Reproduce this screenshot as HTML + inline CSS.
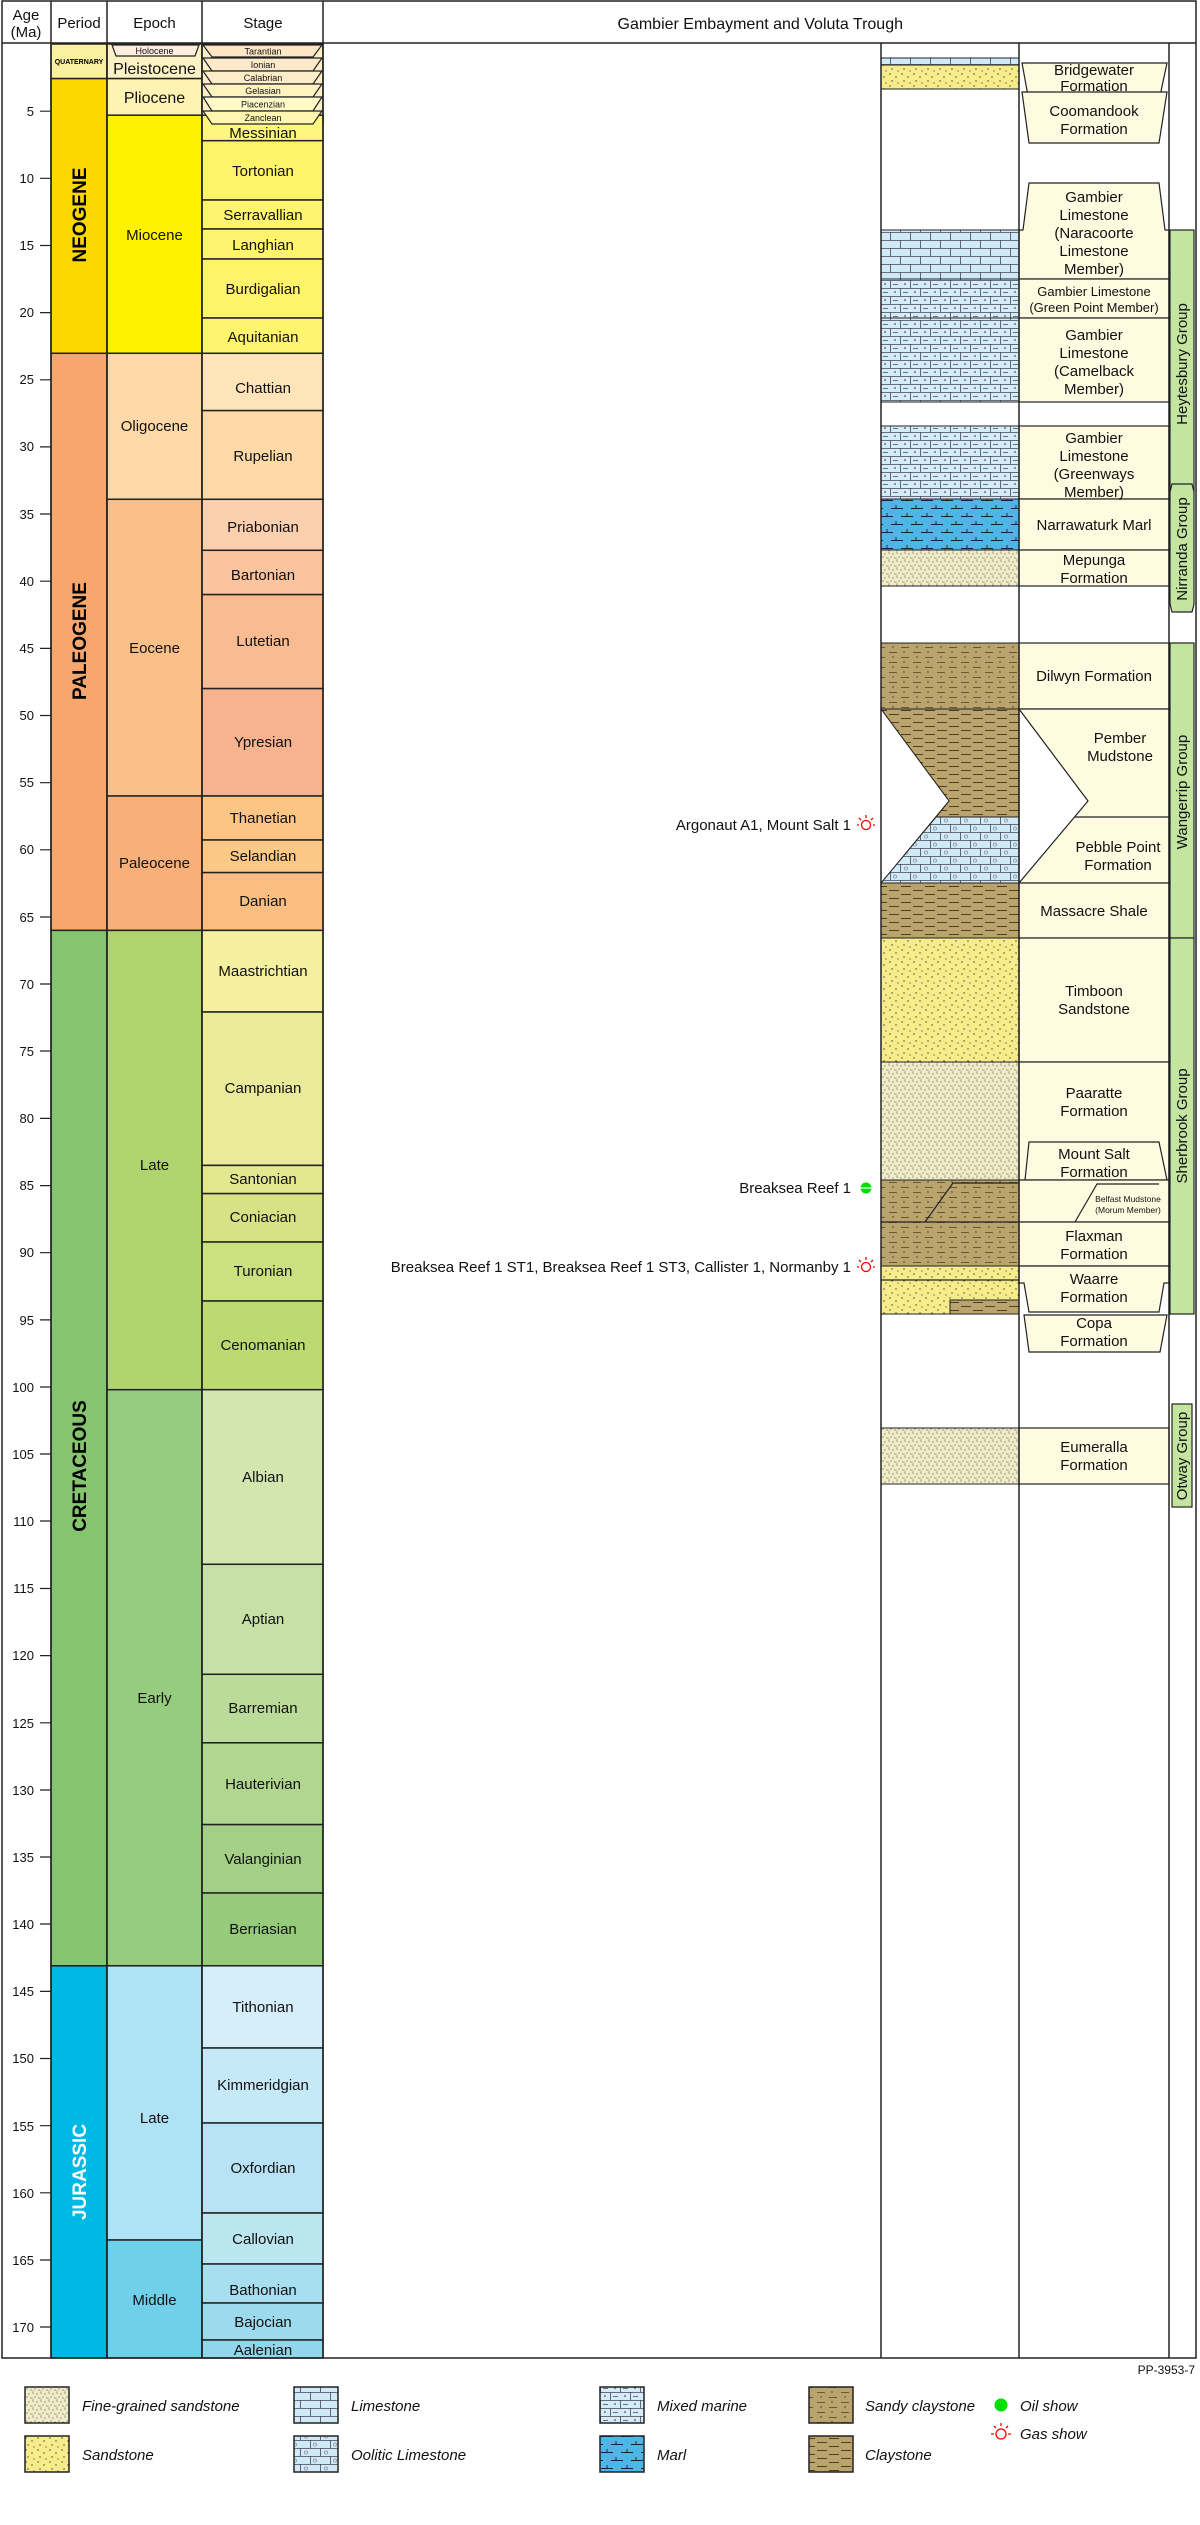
<!DOCTYPE html>
<html><head><meta charset="utf-8"><style>
html,body{margin:0;padding:0;background:#fff;}
svg{display:block;font-family:"Liberation Sans",Arial,sans-serif;}
</style></head><body>
<svg width="1200" height="2525" viewBox="0 0 1200 2525" xmlns="http://www.w3.org/2000/svg">
<defs>
<pattern id="lst" width="20" height="16" patternUnits="userSpaceOnUse"><rect width="20" height="16" fill="#cfe9f6"/><path d="M0 0.5H20M0 8.5H20M0.5 0V8M10.5 8V16" stroke="#445" stroke-width="0.8" fill="none"/></pattern>
<pattern id="mix" width="20" height="16" patternUnits="userSpaceOnUse"><rect width="20" height="16" fill="#d4ecf8"/><path d="M0 0.5H20M0 8.5H20M0.5 0V8M10.5 8V16M3 4.5H8M13 12.5H18" stroke="#445" stroke-width="0.8" fill="none"/><circle cx="15" cy="4" r="0.8" fill="#222"/><circle cx="5" cy="12" r="0.8" fill="#222"/></pattern>
<pattern id="ool" width="20" height="16" patternUnits="userSpaceOnUse"><rect width="20" height="16" fill="#cfe9f6"/><path d="M0 0.5H20M0 8.5H20M0.5 0V8M10.5 8V16" stroke="#445" stroke-width="0.8" fill="none"/><circle cx="6" cy="4.5" r="1.6" fill="none" stroke="#778" stroke-width="0.6"/><circle cx="15" cy="12.5" r="1.6" fill="none" stroke="#778" stroke-width="0.6"/></pattern>
<pattern id="marl" width="20" height="16" patternUnits="userSpaceOnUse"><rect width="20" height="16" fill="#4bb7e6"/><path d="M1 4.5H13M7 4.5V1M11 12.5H20M0 12.5H3M16 12.5V9" stroke="#123" stroke-width="0.9" fill="none"/></pattern>
<pattern id="clay" width="24" height="8" patternUnits="userSpaceOnUse"><rect width="24" height="8" fill="#b9a46d"/><path d="M1 2.5H11M13 6.5H23" stroke="#4d3d1d" stroke-width="0.9" fill="none"/></pattern>
<pattern id="sclay" width="24" height="10" patternUnits="userSpaceOnUse"><rect width="24" height="10" fill="#b9a46d"/><path d="M1 2.5H9M13 7.5H21" stroke="#4d3d1d" stroke-width="0.8" fill="none"/><circle cx="16" cy="2" r="0.7" fill="#332"/><circle cx="5" cy="7" r="0.7" fill="#332"/></pattern>
<pattern id="sst" width="12" height="12" patternUnits="userSpaceOnUse"><rect width="12" height="12" fill="#f7ec8a"/><circle cx="2" cy="2" r="0.7" fill="#444"/><circle cx="8" cy="5" r="0.7" fill="#444"/><circle cx="4" cy="9" r="0.7" fill="#444"/><circle cx="10" cy="11" r="0.6" fill="#444"/></pattern>
<pattern id="fsst" width="8" height="8" patternUnits="userSpaceOnUse"><rect width="8" height="8" fill="#f1edc8"/><circle cx="1" cy="1" r="0.6" fill="#555"/><circle cx="5" cy="2" r="0.6" fill="#555"/><circle cx="3" cy="5" r="0.6" fill="#555"/><circle cx="7" cy="6" r="0.6" fill="#555"/><circle cx="1" cy="7" r="0.5" fill="#555"/></pattern>
</defs>

<!-- Period column -->
<g stroke="#222" stroke-width="1.5">
<rect x="51" y="44" width="56" height="34.6" fill="#faf0a0"/>
<rect x="51" y="78.6" width="56" height="274.7" fill="#fdd800"/>
<rect x="51" y="353.3" width="56" height="577.1" fill="#f7a66c"/>
<rect x="51" y="930.4" width="56" height="1035.4" fill="#84c56e"/>
<rect x="51" y="1965.8" width="56" height="392.2" fill="#00b8e4"/>
<!-- Epoch column -->
<rect x="107" y="44" width="95" height="34.6" fill="#fdf2c4"/>
<rect x="107" y="78.6" width="95" height="36.6" fill="#fff3b4"/>
<rect x="107" y="115.2" width="95" height="238.1" fill="#fff200"/>
<rect x="107" y="353.3" width="95" height="146" fill="#fdd9a8"/>
<rect x="107" y="499.3" width="95" height="296.7" fill="#fbbf88"/>
<rect x="107" y="796" width="95" height="134.4" fill="#f8b07a"/>
<rect x="107" y="930.4" width="95" height="459.3" fill="#b0d46e"/>
<rect x="107" y="1389.7" width="95" height="576.1" fill="#96cc7e"/>
<rect x="107" y="1965.8" width="95" height="274.2" fill="#b0e2f6"/>
<rect x="107" y="2240" width="95" height="118" fill="#70d0ea"/>
<!-- Stage column -->
<rect x="202" y="44" width="121" height="80" fill="#fdf0c8"/>
<rect x="202" y="115.2" width="121" height="25.5" fill="#fff680"/>
<rect x="202" y="140.7" width="121" height="59.3" fill="#fff36a"/>
<rect x="202" y="200" width="121" height="29" fill="#fff46e"/>
<rect x="202" y="229" width="121" height="30" fill="#fff46e"/>
<rect x="202" y="259" width="121" height="59" fill="#fff36a"/>
<rect x="202" y="318" width="121" height="35.3" fill="#fff46e"/>
<rect x="202" y="353.3" width="121" height="57.3" fill="#fee4b8"/>
<rect x="202" y="410.6" width="121" height="88.7" fill="#fdd9a8"/>
<rect x="202" y="499.3" width="121" height="51" fill="#fccfaf"/>
<rect x="202" y="550.3" width="121" height="44.3" fill="#fbc49e"/>
<rect x="202" y="594.6" width="121" height="94" fill="#f9bb92"/>
<rect x="202" y="688.6" width="121" height="107.4" fill="#f6b38e"/>
<rect x="202" y="796" width="121" height="44" fill="#fbc586"/>
<rect x="202" y="840" width="121" height="32.6" fill="#fbc885"/>
<rect x="202" y="872.6" width="121" height="57.8" fill="#fbbe82"/>
<rect x="202" y="930.4" width="121" height="81.6" fill="#f4f0a0"/>
<rect x="202" y="1012" width="121" height="153.4" fill="#eaeb9a"/>
<rect x="202" y="1165.4" width="121" height="28.2" fill="#e3e88e"/>
<rect x="202" y="1193.6" width="121" height="48.4" fill="#d6e285"/>
<rect x="202" y="1242" width="121" height="59" fill="#cbe07e"/>
<rect x="202" y="1301" width="121" height="88.7" fill="#bcd972"/>
<rect x="202" y="1389.7" width="121" height="174.6" fill="#d3e6b0"/>
<rect x="202" y="1564.3" width="121" height="110" fill="#c6e0a6"/>
<rect x="202" y="1674.3" width="121" height="68.5" fill="#badb9a"/>
<rect x="202" y="1742.8" width="121" height="81.8" fill="#b0d690"/>
<rect x="202" y="1824.6" width="121" height="68.4" fill="#a3d086"/>
<rect x="202" y="1893" width="121" height="72.8" fill="#96cb7c"/>
<rect x="202" y="1965.8" width="121" height="82.2" fill="#d5eef9"/>
<rect x="202" y="2048" width="121" height="75" fill="#c6e9f8"/>
<rect x="202" y="2123" width="121" height="90" fill="#b8e3f6"/>
<rect x="202" y="2213" width="121" height="51" fill="#bbe5ef"/>
<rect x="202" y="2264" width="121" height="39" fill="#a8dff0"/>
<rect x="202" y="2303" width="121" height="37" fill="#9edaed"/>
<rect x="202" y="2340" width="121" height="18" fill="#92d6eb"/>
</g>
<!-- small trapezoids -->
<g stroke="#222" stroke-width="1.2">
<polygon points="112,45 199,45 195,56 116,56" fill="#feeee0"/>
<polygon points="203,45 322,45 313,57 212,57" fill="#fde6c4"/>
<polygon points="203,58 322,58 313,71 212,71" fill="#fdeacb"/>
<polygon points="203,71 322,71 313,84 212,84" fill="#fdecc8"/>
<polygon points="203,84 322,84 313,97 212,97" fill="#fef2c0"/>
<polygon points="203,97 322,97 313,111 212,111" fill="#fffac8"/>
<polygon points="203,111 322,111 313,124 212,124" fill="#fff6b0"/>
</g>

<!-- frame -->
<g stroke="#222" stroke-width="1.5" fill="none">
<rect x="2" y="1" width="1194" height="2357"/>
<line x1="2" y1="43" x2="1196" y2="43"/>
<line x1="51" y1="1" x2="51" y2="2358"/>
<line x1="107" y1="1" x2="107" y2="2358"/>
<line x1="202" y1="1" x2="202" y2="2358"/>
<line x1="323" y1="1" x2="323" y2="2358"/>
</g>

<!-- header text -->
<g font-size="15" fill="#111" text-anchor="middle">
<text x="26" y="20">Age</text><text x="26" y="37">(Ma)</text>
<text x="79" y="28">Period</text>
<text x="154.5" y="28">Epoch</text>
<text x="263" y="28">Stage</text>
<text x="903" y="29" text-anchor="end" font-size="16">Gambier Embayment and Voluta Trough</text>
</g>

<!-- ticks -->
<g stroke="#222" stroke-width="1.2">
<path d="M40 111.2H51M40 178.3H51M40 245.5H51M40 312.6H51M40 379.8H51M40 446.9H51M40 514H51M40 581.2H51M40 648.4H51M40 715.5H51M40 782.7H51M40 849.8H51M40 917H51M40 984H51M40 1051H51M40 1118.4H51M40 1185.6H51M40 1252.7H51M40 1319.9H51M40 1387H51M40 1454H51M40 1521H51M40 1588.5H51M40 1655.6H51M40 1722.8H51M40 1790H51M40 1857H51M40 1924H51M40 1991.4H51M40 2058.5H51M40 2125.7H51M40 2192.8H51M40 2260H51M40 2327H51"/>
</g>
<g font-size="13" fill="#111" text-anchor="end">
<text x="34" y="116">5</text><text x="34" y="183">10</text><text x="34" y="250">15</text><text x="34" y="317">20</text><text x="34" y="384">25</text><text x="34" y="451">30</text><text x="34" y="519">35</text><text x="34" y="586">40</text><text x="34" y="653">45</text><text x="34" y="720">50</text><text x="34" y="787">55</text><text x="34" y="854">60</text><text x="34" y="922">65</text><text x="34" y="989">70</text><text x="34" y="1056">75</text><text x="34" y="1123">80</text><text x="34" y="1190">85</text><text x="34" y="1257">90</text><text x="34" y="1325">95</text><text x="34" y="1392">100</text><text x="34" y="1459">105</text><text x="34" y="1526">110</text><text x="34" y="1593">115</text><text x="34" y="1660">120</text><text x="34" y="1728">125</text><text x="34" y="1795">130</text><text x="34" y="1862">135</text><text x="34" y="1929">140</text><text x="34" y="1996">145</text><text x="34" y="2063">150</text><text x="34" y="2131">155</text><text x="34" y="2198">160</text><text x="34" y="2265">165</text><text x="34" y="2332">170</text>
</g>

<!-- period labels -->
<text x="79" y="64" font-size="7" font-weight="bold" text-anchor="middle">QUATERNARY</text>
<g font-size="19" font-weight="bold" text-anchor="middle">
<text transform="translate(86,215) rotate(-90)">NEOGENE</text>
<text transform="translate(86,641) rotate(-90)">PALEOGENE</text>
<text transform="translate(86,1466) rotate(-90)">CRETACEOUS</text>
<text transform="translate(86,2172) rotate(-90)" fill="#fff">JURASSIC</text>
</g>

<!-- epoch labels -->
<g font-size="15" text-anchor="middle" fill="#111">
<text x="154.5" y="54" font-size="9">Holocene</text>
<text x="154.5" y="74" font-size="16">Pleistocene</text>
<text x="154.5" y="103" font-size="16">Pliocene</text>
<text x="154.5" y="240">Miocene</text>
<text x="154.5" y="431">Oligocene</text>
<text x="154.5" y="653">Eocene</text>
<text x="154.5" y="868">Paleocene</text>
<text x="154.5" y="1170">Late</text>
<text x="154.5" y="1703">Early</text>
<text x="154.5" y="2123">Late</text>
<text x="154.5" y="2305">Middle</text>
</g>

<!-- stage labels -->
<g font-size="9" text-anchor="middle" fill="#111">
<text x="263" y="54.5">Tarantian</text><text x="263" y="68">Ionian</text><text x="263" y="81">Calabrian</text><text x="263" y="94">Gelasian</text><text x="263" y="107.5">Piacenzian</text><text x="263" y="121">Zanclean</text>
</g>
<g font-size="15" text-anchor="middle" fill="#111">
<text x="263" y="138">Messinian</text>
<text x="263" y="176">Tortonian</text>
<text x="263" y="220">Serravallian</text>
<text x="263" y="250">Langhian</text>
<text x="263" y="294">Burdigalian</text>
<text x="263" y="342">Aquitanian</text>
<text x="263" y="393">Chattian</text>
<text x="263" y="461">Rupelian</text>
<text x="263" y="532">Priabonian</text>
<text x="263" y="580">Bartonian</text>
<text x="263" y="646">Lutetian</text>
<text x="263" y="747">Ypresian</text>
<text x="263" y="823">Thanetian</text>
<text x="263" y="861">Selandian</text>
<text x="263" y="906">Danian</text>
<text x="263" y="976">Maastrichtian</text>
<text x="263" y="1093">Campanian</text>
<text x="263" y="1184">Santonian</text>
<text x="263" y="1222">Coniacian</text>
<text x="263" y="1276">Turonian</text>
<text x="263" y="1350">Cenomanian</text>
<text x="263" y="1482">Albian</text>
<text x="263" y="1624">Aptian</text>
<text x="263" y="1713">Barremian</text>
<text x="263" y="1789">Hauterivian</text>
<text x="263" y="1864">Valanginian</text>
<text x="263" y="1934">Berriasian</text>
<text x="263" y="2012">Tithonian</text>
<text x="263" y="2090">Kimmeridgian</text>
<text x="263" y="2173">Oxfordian</text>
<text x="263" y="2244">Callovian</text>
<text x="263" y="2295">Bathonian</text>
<text x="263" y="2327">Bajocian</text>
<text x="263" y="2355">Aalenian</text>
</g>

<!-- lithology column -->
<g stroke="#222" stroke-width="1">
<rect x="881" y="58" width="138" height="7" fill="url(#lst)"/>
<rect x="881" y="65" width="138" height="24" fill="url(#sst)"/>
<rect x="881" y="230" width="138" height="49" fill="url(#lst)"/>
<rect x="881" y="279" width="138" height="39" fill="url(#mix)"/>
<rect x="881" y="318" width="138" height="84" fill="url(#mix)"/>
<rect x="881" y="426" width="138" height="73" fill="url(#mix)"/>
<rect x="881" y="499" width="138" height="51" fill="url(#marl)"/>
<rect x="881" y="550" width="138" height="36" fill="url(#fsst)"/>
<rect x="881" y="643" width="138" height="66" fill="url(#sclay)"/>
<polygon points="881,709 1019,709 1019,817 936,817 949,801" fill="url(#clay)"/>
<polygon points="936,817 1019,817 1019,883 881,883" fill="url(#ool)"/>
<polygon points="881,709 949,801 881,883" fill="#fff"/>
<rect x="881" y="883" width="138" height="55" fill="url(#clay)"/>
<rect x="881" y="938" width="138" height="124" fill="url(#sst)"/>
<rect x="881" y="1062" width="138" height="118" fill="url(#fsst)"/>
<rect x="881" y="1180" width="138" height="86" fill="url(#sclay)"/>
<rect x="881" y="1266" width="138" height="48" fill="url(#sst)"/>
<rect x="950" y="1300" width="69" height="14" fill="url(#clay)"/>
<rect x="881" y="1428" width="138" height="56" fill="url(#fsst)"/>
</g>
<g stroke="#222" stroke-width="1.2" fill="none">
<path d="M925 1222L953 1183H1019M881 1222H1019M881 1280H1019"/>
</g>

<!-- formation column -->
<g stroke="#222" stroke-width="1.2" fill="#fffbe0">
<polygon points="1022,63 1167,63 1160,96 1028,96"/>
<polygon points="1022,92 1167,92 1159,143 1029,143"/>
<polygon points="1029,183 1159,183 1165,230 1169,230 1169,279 1019,279 1019,230 1023,230"/>
<rect x="1019" y="279" width="150" height="39"/>
<rect x="1019" y="318" width="150" height="84"/>
<rect x="1019" y="426" width="150" height="73"/>
<rect x="1019" y="499" width="150" height="51"/>
<rect x="1019" y="550" width="150" height="36"/>
<rect x="1019" y="643" width="150" height="66"/>
<rect x="1019" y="709" width="150" height="174"/>
<polygon points="1019,709 1088,801 1019,883" fill="#fff"/>
<rect x="1019" y="883" width="150" height="55"/>
<rect x="1019" y="938" width="150" height="124"/>
<rect x="1019" y="1062" width="150" height="118"/>
<polygon points="1029,1142 1159,1142 1167,1180 1025,1180"/>
<rect x="1019" y="1180" width="150" height="42"/>
<rect x="1019" y="1222" width="150" height="44"/>
<polygon points="1019,1266 1169,1266 1169,1283 1164,1283 1159,1312 1029,1312 1024,1283 1019,1283"/>
<polygon points="1024,1315 1167,1315 1160,1352 1029,1352"/>
<rect x="1019" y="1428" width="150" height="56"/>
</g>
<g stroke="#222" stroke-width="1.2" fill="none">
<path d="M1074.5 817H1169M1075 1222L1097 1184H1159"/>
</g>

<!-- group column -->
<g stroke="#222" stroke-width="1.2" fill="#c3e5a0">
<rect x="1170" y="230" width="24" height="262"/>
<polygon points="1172,484 1192,484 1194,492 1194,604 1192,612 1172,612 1170,604 1170,492"/>
<rect x="1170" y="643" width="24" height="295"/>
<rect x="1170" y="938" width="24" height="376"/>
<rect x="1172" y="1404" width="20" height="103"/>
</g>
<g stroke="#222" stroke-width="1.5" fill="none">
<line x1="881" y1="43" x2="881" y2="2358"/>
<line x1="1019" y1="43" x2="1019" y2="2358"/>
<line x1="1169" y1="43" x2="1169" y2="2358"/>
</g>
<g font-size="15" text-anchor="middle" fill="#111">
<text transform="translate(1187,364) rotate(-90)">Heytesbury Group</text>
<text transform="translate(1187,549) rotate(-90)">Nirranda Group</text>
<text transform="translate(1187,792) rotate(-90)">Wangerrip Group</text>
<text transform="translate(1187,1126) rotate(-90)">Sherbrook Group</text>
<text transform="translate(1187,1456) rotate(-90)">Otway Group</text>
</g>

<!-- formation labels -->
<g font-size="15" text-anchor="middle" fill="#111">
<text x="1094" y="75">Bridgewater</text><text x="1094" y="91">Formation</text>
<text x="1094" y="116">Coomandook</text><text x="1094" y="134">Formation</text>
<text x="1094" y="202">Gambier</text><text x="1094" y="220">Limestone</text><text x="1094" y="238">(Naracoorte</text><text x="1094" y="256">Limestone</text><text x="1094" y="274">Member)</text>
<text x="1094" y="296" font-size="13">Gambier Limestone</text><text x="1094" y="312" font-size="13">(Green Point Member)</text>
<text x="1094" y="340">Gambier</text><text x="1094" y="358">Limestone</text><text x="1094" y="376">(Camelback</text><text x="1094" y="394">Member)</text>
<text x="1094" y="443">Gambier</text><text x="1094" y="461">Limestone</text><text x="1094" y="479">(Greenways</text><text x="1094" y="497">Member)</text>
<text x="1094" y="530">Narrawaturk Marl</text>
<text x="1094" y="565">Mepunga</text><text x="1094" y="583">Formation</text>
<text x="1094" y="681">Dilwyn Formation</text>
<text x="1120" y="743">Pember</text><text x="1120" y="761">Mudstone</text>
<text x="1118" y="852">Pebble Point</text><text x="1118" y="870">Formation</text>
<text x="1094" y="916">Massacre Shale</text>
<text x="1094" y="996">Timboon</text><text x="1094" y="1014">Sandstone</text>
<text x="1094" y="1098">Paaratte</text><text x="1094" y="1116">Formation</text>
<text x="1094" y="1159">Mount Salt</text><text x="1094" y="1177">Formation</text>
<text x="1128" y="1202" font-size="8.5">Belfast Mudstone</text><text x="1128" y="1213" font-size="8.5">(Morum Member)</text>
<text x="1094" y="1241">Flaxman</text><text x="1094" y="1259">Formation</text>
<text x="1094" y="1284">Waarre</text><text x="1094" y="1302">Formation</text>
<text x="1094" y="1328">Copa</text><text x="1094" y="1346">Formation</text>
<text x="1094" y="1452">Eumeralla</text><text x="1094" y="1470">Formation</text>
</g>

<!-- shows -->
<g font-size="15" text-anchor="end" fill="#111">
<text x="851" y="830">Argonaut A1, Mount Salt 1</text>
<text x="851" y="1193">Breaksea Reef 1</text>
<text x="851" y="1272">Breaksea Reef 1 ST1, Breaksea Reef 1 ST3, Callister 1, Normanby 1</text>
</g>
<g id="gas1" stroke="#f00" stroke-width="1.3" fill="none">
<circle cx="866" cy="825" r="4.5"/><path d="M866 818V815M861 820L859 818M871 820L873 818M859 825H857M873 825H875"/>
</g>
<g stroke="#f00" stroke-width="1.3" fill="none">
<circle cx="866" cy="1267" r="4.5"/><path d="M866 1260V1257M861 1262L859 1260M871 1262L873 1260M859 1267H857M873 1267H875"/>
</g>
<circle cx="866" cy="1188" r="5.5" fill="#00e000"/><line x1="860" y1="1188" x2="872" y2="1188" stroke="#fff" stroke-width="1.2"/>

<!-- legend -->
<text x="1195" y="2374" font-size="12" text-anchor="end" fill="#111">PP-3953-7</text>
<g stroke="#222" stroke-width="1.5">
<rect x="25" y="2387" width="44" height="36" fill="url(#fsst)"/>
<rect x="25" y="2436" width="44" height="36" fill="url(#sst)"/>
<rect x="294" y="2387" width="44" height="36" fill="url(#lst)"/>
<rect x="294" y="2436" width="44" height="36" fill="url(#ool)"/>
<rect x="600" y="2387" width="44" height="36" fill="url(#mix)"/>
<rect x="600" y="2436" width="44" height="36" fill="url(#marl)"/>
<rect x="809" y="2387" width="44" height="36" fill="url(#sclay)"/>
<rect x="809" y="2436" width="44" height="36" fill="url(#clay)"/>
</g>
<g font-size="15" font-style="italic" fill="#111">
<text x="82" y="2411">Fine-grained sandstone</text>
<text x="82" y="2460">Sandstone</text>
<text x="351" y="2411">Limestone</text>
<text x="351" y="2460">Oolitic Limestone</text>
<text x="657" y="2411">Mixed marine</text>
<text x="657" y="2460">Marl</text>
<text x="865" y="2411">Sandy claystone</text>
<text x="865" y="2460">Claystone</text>
<text x="1020" y="2411">Oil show</text>
<text x="1020" y="2439">Gas show</text>
</g>
<circle cx="1001" cy="2405" r="6.5" fill="#00e000"/>
<g stroke="#f00" stroke-width="1.3" fill="none">
<circle cx="1001" cy="2434" r="5"/><path d="M1001 2426V2423M996 2428L994 2426M1006 2428L1008 2426M994 2434H991M1008 2434H1011"/>
</g>
</svg>
</body></html>
